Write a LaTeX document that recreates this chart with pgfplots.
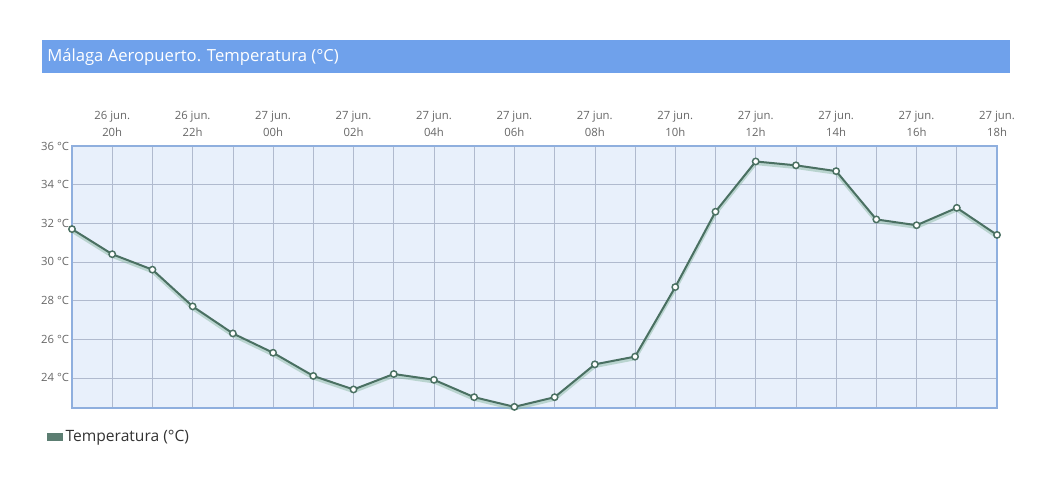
\documentclass[border=0pt]{standalone}
\usepackage{pgfplots}
\pgfplotsset{compat=1.18}
\usepackage{fontspec}
\setmainfont{Open Sans}

\definecolor{titlebar}{RGB}{111,161,235}
\definecolor{plotbg}{RGB}{232,240,251}
\definecolor{frame}{RGB}{143,175,222}
\definecolor{gridc}{RGB}{176,186,206}
\definecolor{tline}{RGB}{74,112,98}
\definecolor{tshadow}{RGB}{140,185,165}
\definecolor{labelc}{RGB}{102,102,102}

\begin{document}
\begin{tikzpicture}[x=0.75pt,y=0.75pt]
% page size as the reference, in px (y measured upwards)
\path (0,0) rectangle (1044,487);
% title bar
\fill[titlebar] (42,414) rectangle (1010,447);
\node[anchor=west, text=white, font=\fontsize{12.5}{14}\selectfont, inner sep=0pt] at (47,430) {Málaga Aeropuerto. Temperatura (°C)};

\begin{axis}[
	at={(54pt,59.25pt)}, anchor=south west,
	scale only axis,
	width=693.75pt, height=196.5pt,
	xmin=0, xmax=23,
	ymin=22.44, ymax=36,
	axis background/.style={fill=plotbg},
	axis line style={draw=frame, line width=1.5pt},
	xtick={1,3,...,23},
	minor xtick={0,2,...,22},
	xticklabels={{26 jun.\\20h},{26 jun.\\22h},{27 jun.\\00h},{27 jun.\\02h},{27 jun.\\04h},{27 jun.\\06h},{27 jun.\\08h},{27 jun.\\10h},{27 jun.\\12h},{27 jun.\\14h},{27 jun.\\16h},{27 jun.\\18h}},
	xticklabel pos=top,
	xticklabel style={align=center, text=labelc, font=\fontsize{8.5}{12.75}\selectfont,
		anchor=south, text depth=0pt, inner sep=0pt, yshift=7pt},
	ytick={24,26,...,36},
	yticklabels={24 °C,26 °C,28 °C,30 °C,32 °C,34 °C,36 °C},
	yticklabel style={text=labelc, font=\fontsize{8.5}{10}\selectfont, inner sep=2pt},
	major tick length=0pt, minor tick length=0pt,
	grid=both,
	major grid style={draw=gridc, line width=0.5pt},
	minor grid style={draw=gridc, line width=0.5pt},
	clip=false,
	legend style={at={(0,0)}, anchor=west, xshift=-19pt, yshift=-21.75pt,
		draw=none, fill=none, inner sep=0pt,
		font=\fontsize{11.7}{13}\selectfont, text=black!80},
	legend cell align=left,
]
\addplot[tshadow, line width=2.5pt, opacity=0.5, yshift=-1.5pt, forget plot] coordinates {
(0,31.7) (1,30.4) (2,29.6) (3,27.7) (4,26.3) (5,25.3) (6,24.1) (7,23.4)
(8,24.2) (9,23.9) (10,23.0) (11,22.5) (12,23.0) (13,24.7) (14,25.1) (15,28.7)
(16,32.6) (17,35.2) (18,35.0) (19,34.7) (20,32.2) (21,31.9) (22,32.8) (23,31.4)};
\addplot[tline, line width=1.5pt, mark=*, mark size=2.4pt,
	mark options={fill=white, draw=tline, line width=1.1pt},
	legend image code/.code={\fill[tline!90!white] (0pt,-2.6pt) rectangle (10.5pt,2.6pt);}]
coordinates {
(0,31.7) (1,30.4) (2,29.6) (3,27.7) (4,26.3) (5,25.3) (6,24.1) (7,23.4)
(8,24.2) (9,23.9) (10,23.0) (11,22.5) (12,23.0) (13,24.7) (14,25.1) (15,28.7)
(16,32.6) (17,35.2) (18,35.0) (19,34.7) (20,32.2) (21,31.9) (22,32.8) (23,31.4)};
\addlegendentry{Temperatura (°C)}
\end{axis}
\end{tikzpicture}
\end{document}
